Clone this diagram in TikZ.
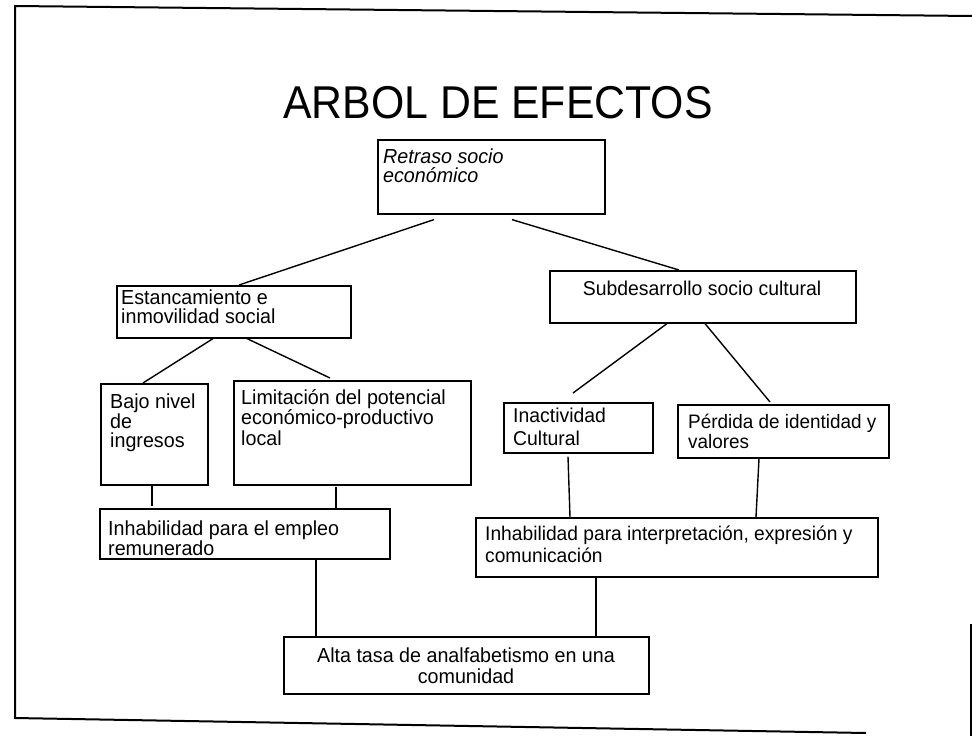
\documentclass[tikz,border=0pt]{standalone}
\usepackage{fontspec}
\setmainfont{Liberation Sans}[FakeStretch=0.97]
\newfontfamily\titlefont{Liberation Sans}[FakeStretch=0.93]
\usetikzlibrary{calc}
\begin{document}
\begin{tikzpicture}[x=1pt,y=-1pt,
  box/.style={draw=black, line width=1.6pt, rectangle, inner sep=0pt, anchor=north west},
  txt/.style={inner sep=0pt, anchor=north west, align=left},
  ctxt/.style={inner sep=0pt, anchor=north, align=center},
  conn/.style={line width=1.4pt},
  framestroke/.style={line width=2pt}]
\useasboundingbox (0,0) rectangle (972,736);
\fill[white] (0,0) rectangle (972,736);
% frame
\draw[framestroke] (972,16) -- (15,6) -- (15,718) -- (866,733);
\draw[framestroke] (971,624) -- (971,736);
% title
\node[font=\titlefont\fontsize{46}{50}\selectfont, anchor=base, inner sep=0pt] (title) at (498,118) {ARBOL DE EFECTOS};
% boxes
\node[box, minimum width=227pt, minimum height=74pt] (retraso) at (377,139) {};
\node[box, minimum width=234pt, minimum height=52pt] (estanc) at (116,285) {};
\node[box, minimum width=306pt, minimum height=52pt] (subdes) at (549,270) {};
\node[box, minimum width=107pt, minimum height=101pt] (bajo) at (100,383) {};
\node[box, minimum width=237pt, minimum height=104pt] (limit) at (233,380) {};
\node[box, minimum width=149pt, minimum height=50pt] (inact) at (503,402) {};
\node[box, minimum width=211pt, minimum height=53pt] (perdida) at (677,404) {};
\node[box, minimum width=290pt, minimum height=50pt] (empleo) at (99,508) {};
\node[box, minimum width=402pt, minimum height=59pt] (interp) at (475,517) {};
\node[box, minimum width=365pt, minimum height=57pt] (alta) at (283,636) {};
% texts
\node[txt, font=\fontsize{20.3}{19}\selectfont\itshape] (retraso-t) at (383,149) {Retraso socio\\econ\'omico};
\node[txt, font=\fontsize{20.3}{19}\selectfont] (estanc-t) at (121,290) {Estancamiento e\\inmovilidad social};
\node[ctxt, font=\fontsize{20}{20}\selectfont] (subdes-t) at (702,281) {Subdesarrollo socio cultural};
\node[txt, font=\fontsize{20.3}{19.5}\selectfont] (bajo-t) at (110,394) {Bajo nivel\\de\\ingresos};
\node[txt, font=\fontsize{20.3}{20.5}\selectfont] (limit-t) at (241,389) {Limitaci\'on del potencial\\econ\'omico-productivo\\local};
\node[txt, font=\fontsize{20}{23}\selectfont] (inact-t) at (513,408) {Inactividad\\Cultural};
\node[txt, font=\fontsize{19.5}{20}\selectfont] (perdida-t) at (688,414) {P\'erdida de identidad y\\valores};
\node[txt, font=\fontsize{20.3}{20}\selectfont] (empleo-t) at (108,521) {Inhabilidad para el empleo\\remunerado};
\node[txt, font=\fontsize{19.8}{22}\selectfont] (interp-t) at (485,526) {Inhabilidad para interpretaci\'on, expresi\'on y\\comunicaci\'on};
\node[ctxt, font=\fontsize{20.3}{21}\selectfont] (alta-t) at (466,648) {Alta tasa de analfabetismo en una\\comunidad};
% connectors
\draw[conn] ($(retraso.south west)+(57,5)$) -- ($(estanc.north west)+(123,0)$);
\draw[conn] ($(retraso.south west)+(135,5)$) -- ($(subdes.north west)+(130,0)$);
\draw[conn] ($(estanc.south west)+(97,0)$) -- ($(bajo.north west)+(43,0)$);
\draw[conn] ($(estanc.south west)+(131,0)$) -- ($(limit.north west)+(97,-2)$);
\draw[conn] ($(subdes.south west)+(118,0)$) -- ($(inact.north west)+(70,-9)$);
\draw[conn] ($(subdes.south west)+(156,0)$) -- ($(perdida.north west)+(93,-2)$);
\draw[conn] ($(bajo.south west)+(52,0)$) -- ($(empleo.north west)+(53,-2)$);
\draw[conn] ($(limit.south west)+(103,1)$) -- ($(empleo.north west)+(237,0)$);
\draw[conn] ($(inact.south west)+(65,3)$) -- ($(interp.north west)+(95,0)$);
\draw[conn] ($(perdida.south west)+(82,0)$) -- ($(interp.north west)+(281,0)$);
\draw[conn] ($(empleo.south west)+(217,0)$) -- ($(alta.north west)+(33,0)$);
\draw[conn] ($(interp.south west)+(121,0)$) -- ($(alta.north west)+(313,0)$);
\end{tikzpicture}
\end{document}
